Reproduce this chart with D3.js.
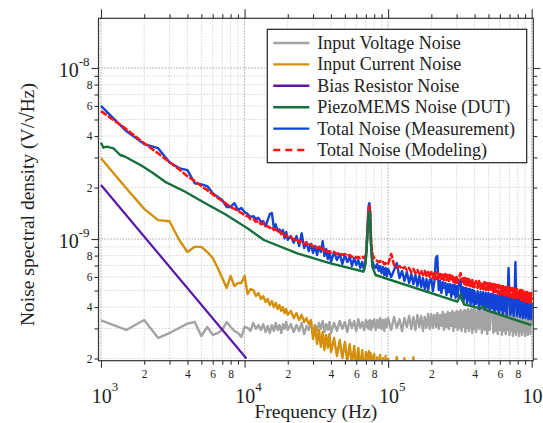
<!DOCTYPE html>
<html>
<head>
<meta charset="utf-8">
<script src="https://cdn.jsdelivr.net/npm/d3@7"></script>
<style>
  html, body { margin: 0; padding: 0; background: #fff; }
  svg, svg text { font-family: "Liberation Serif", "Times New Roman", Times, "DejaVu Serif", serif; }
</style>
</head>
<body>
<svg id="chart" width="543" height="423"></svg>
<script>
const FONT = '"Liberation Serif", "Times New Roman", Times, "DejaVu Serif", serif';

// shared frequency bins of the measured / modeled spectra (kHz)
const freqKHz = [
  1, 1.5, 2, 2.5, 3, 3.5, 4, 4.5, 5, 5.5, 6, 6.5, 7, 7.5, 8, 8.5, 9, 9.5,
  10, 10.5, 11, 11.5, 12, 12.5, 13, 13.5, 14, 14.5, 15, 15.5, 16, 16.5, 17, 17.5, 18, 18.5, 19, 19.5,
  20, 21, 22, 23, 24, 25, 26, 27, 28, 29, 30, 31, 32, 33, 34, 35, 36, 37, 38, 39,
  40, 42, 44, 46, 48, 50, 52, 54, 56, 58, 60, 62, 64, 66, 68,
  70, 71, 72, 73, 73.5, 74, 74.5, 75, 75.5, 76, 77, 78, 80,
  82, 84, 86, 88, 90, 92, 94, 96, 98,
  100, 105, 110, 115, 120, 125, 130, 135, 140, 145, 150, 155, 160, 165, 170, 175, 180, 185, 190, 195,
  200, 205, 210, 215, 220, 225, 230, 235, 240, 245, 250, 255, 260, 265, 270, 275, 280, 285, 290, 295,
  300, 305, 310, 315, 320, 325, 330, 335, 340, 345, 350, 355, 360, 365, 370, 375, 380, 385, 390, 395,
  400, 410, 420, 430, 440, 450, 460, 470, 480, 490, 500, 510, 520, 530, 540, 550, 560, 570, 580, 590,
  600, 610, 620, 630, 640, 650, 660, 670, 680, 690, 700, 710, 720, 730, 740, 750, 760, 770, 780, 790,
  800, 810, 820, 830, 840, 850, 860, 870, 880, 890, 900, 910, 920, 930, 940, 950, 960, 970, 980, 990, 1000
];

// noise densities in nV/sqrt(Hz), one value per bin
const voltageNoise = [
  0.334, 0.294, 0.336, 0.264, 0.282, 0.302, 0.32, 0.327, 0.271, 0.306,
  0.275, 0.282, 0.294, 0.327, 0.306, 0.29, 0.282, 0.267, 0.306, 0.302,
  0.29, 0.323, 0.298, 0.314, 0.294, 0.318, 0.286, 0.31, 0.282, 0.314,
  0.29, 0.323, 0.294, 0.314, 0.282, 0.318, 0.298, 0.327, 0.294, 0.318,
  0.286, 0.314, 0.29, 0.323, 0.278, 0.31, 0.294, 0.327, 0.282, 0.314,
  0.29, 0.323, 0.298, 0.332, 0.286, 0.318, 0.294, 0.327, 0.282, 0.323,
  0.29, 0.332, 0.298, 0.327, 0.286, 0.336, 0.302, 0.332, 0.29, 0.34,
  0.302, 0.327, 0.294, 0.336, 0.306, 0.327, 0.298, 0.332, 0.31, 0.336,
  0.302, 0.327, 0.294, 0.332, 0.306, 0.34, 0.294, 0.336, 0.302, 0.345,
  0.298, 0.336, 0.29, 0.34, 0.306, 0.345, 0.294, 0.35, 0.302, 0.34,
  0.29, 0.345, 0.306, 0.355, 0.298, 0.35, 0.294, 0.36, 0.306, 0.355,
  0.29, 0.35, 0.302, 0.364, 0.298,
  0.364, 0.302, 0.36, 0.306, 0.369, 0.298, 0.36, 0.31, 0.374, 0.294,
  0.364, 0.306, 0.374, 0.298, 0.369, 0.31, 0.38, 0.29, 0.369, 0.306,
  0.38, 0.294, 0.374, 0.302, 0.385, 0.29, 0.374, 0.306, 0.385, 0.286,
  0.38, 0.302, 0.39, 0.29, 0.38, 0.302, 0.39, 0.282, 0.385, 0.298,
  0.395, 0.286, 0.39, 0.298, 0.40, 0.282, 0.39, 0.294, 0.406, 0.278,
  0.395, 0.294, 0.406, 0.464, 0.282, 0.40, 0.29, 0.411, 0.278, 0.40,
  0.294, 0.411, 0.275, 0.406, 0.29, 0.417, 0.278, 0.406, 0.294, 0.417,
  0.275, 0.411, 0.29, 0.423, 0.271, 0.411, 0.286, 0.423, 0.275, 0.417,
  0.29, 0.428, 0.271, 0.417, 0.286, 0.428, 0.275, 0.423, 0.29, 0.434,
  0.271, 0.423, 0.286, 0.434, 0.275, 0.428, 0.29, 0.44, 0.278, 0.428, 0.314
];

const currentNoise = [
  2.97, 1.98, 1.50, 1.29, 1.27, 0.99, 0.84, 0.90, 0.90, 0.84,
  0.774, 0.677, 0.591, 0.517, 0.608, 0.531, 0.553, 0.553, 0.608, 0.477,
  0.51, 0.503, 0.464, 0.483, 0.446, 0.464, 0.428, 0.446, 0.411, 0.434,
  0.40, 0.423, 0.39, 0.411, 0.38, 0.40, 0.369, 0.39, 0.36, 0.38,
  0.345, 0.369, 0.336, 0.36, 0.327, 0.345, 0.318, 0.336, 0.26, 0.31,
  0.243, 0.294, 0.234, 0.286, 0.224, 0.275, 0.231, 0.278, 0.218, 0.264,
  0.207, 0.257, 0.201, 0.25, 0.191, 0.243, 0.184, 0.237, 0.176, 0.231,
  0.169, 0.224, 0.162, 0.218, 0.157, 0.213, 0.150, 0.221, 0.153, 0.210,
  0.145, 0.215, 0.141, 0.207, 0.138, 0.213, 0.135, 0.204, 0.131, 0.21,
  0.126, 0.201, 0.123, 0.207, 0.120, 0.199, 0.116, 0.17, 0.204, 0.12,
  0.16, 0.201, 0.114, 0.15, 0.10, 0.204, 0.14, 0.105, 0.13, 0.10,
  0.12, 0.095, 0.11, 0.09, 0.105, 0.088
];

const measuredNoise = [
  6.00, 4.28, 3.59, 3.40, 2.81, 2.60, 2.53, 2.12, 2.09, 2.04,
  1.855, 1.76, 1.69, 1.54, 1.54, 1.62, 1.48, 1.52, 1.44, 1.40,
  1.345, 1.36, 1.31, 1.33, 1.26, 1.27, 1.19, 1.29, 1.40, 1.42,
  1.16, 1.22, 1.11, 1.14, 1.08, 1.13, 1.01, 1.10, 0.99, 1.04,
  0.95, 1.04, 0.91, 1.08, 0.886, 0.96, 0.85, 0.935, 0.83, 0.91,
  0.806, 0.90, 0.84, 0.97, 0.795, 0.874, 0.764, 0.85, 0.734, 0.84,
  0.754, 0.817, 0.714, 0.806, 0.734, 0.785, 0.695, 0.774, 0.705, 0.754,
  0.677, 0.734, 0.659, 0.774, 0.95, 1.21, 1.52, 1.60, 1.62, 1.56,
  1.40, 1.13, 0.92, 0.795, 0.734, 0.695, 0.677, 0.714, 0.65, 0.695,
  0.632, 0.686, 0.616, 0.677, 0.608, 0.668, 0.60, 0.659, 0.724, 0.591,
  0.65, 0.568, 0.641, 0.553, 0.624, 0.545, 0.616, 0.531, 0.608, 0.524,
  0.591, 0.51, 0.583, 0.503, 0.576,
  0.583, 0.496, 0.56, 0.774, 0.795, 0.503, 0.568, 0.483, 0.56, 0.517,
  0.553, 0.47, 0.545, 0.49, 0.545, 0.458, 0.538, 0.477, 0.538, 0.452,
  0.531, 0.464, 0.531, 0.56, 0.576, 0.44, 0.524, 0.428, 0.517, 0.452,
  0.517, 0.417, 0.51, 0.44, 0.51, 0.411, 0.503, 0.428, 0.503, 0.40,
  0.496, 0.417, 0.496, 0.39, 0.49, 0.411, 0.49, 0.385, 0.483, 0.40,
  0.483, 0.38, 0.477, 0.395, 0.477, 0.374, 0.47, 0.39, 0.47, 0.369,
  0.464, 0.385, 0.464, 0.364, 0.464, 0.38, 0.458, 0.36, 0.458, 0.677,
  0.458, 0.36, 0.452, 0.374, 0.452, 0.355, 0.452, 0.734, 0.446, 0.355,
  0.446, 0.369, 0.446, 0.35, 0.44, 0.364, 0.44, 0.345, 0.44, 0.36,
  0.434, 0.345, 0.434, 0.355, 0.434, 0.34, 0.428, 0.355, 0.428, 0.34, 0.423
];

const modeledNoise = [
  5.60, 4.39, 3.63, 3.17, 2.81, 2.56, 2.33, 2.18, 2.04, 1.93,
  1.83, 1.74, 1.67, 1.60, 1.54, 1.50, 1.46, 1.42, 1.38, 1.36,
  1.31, 1.31, 1.26, 1.27, 1.22, 1.24, 1.19, 1.19, 1.16, 1.18,
  1.13, 1.14, 1.10, 1.11, 1.07, 1.08, 1.04, 1.06, 1.03, 1.03,
  0.99, 1.00, 0.96, 0.97, 0.935, 0.95, 0.91, 0.935, 0.90, 0.91,
  0.886, 0.90, 0.862, 0.886, 0.85, 0.862, 0.84, 0.85, 0.83, 0.84,
  0.817, 0.83, 0.806, 0.817, 0.795, 0.806, 0.785, 0.795, 0.774, 0.785,
  0.774, 0.785, 0.774, 0.806, 0.92, 1.16, 1.44, 1.54, 1.56, 1.52,
  1.38, 1.16, 0.99, 0.862, 0.806, 0.774, 0.754, 0.744, 0.734, 0.744,
  0.724, 0.734, 0.714, 0.724, 0.705, 0.714, 0.817, 0.705, 0.677, 0.695,
  0.668, 0.686, 0.659, 0.677, 0.641, 0.668, 0.632, 0.659, 0.624, 0.65,
  0.616, 0.65, 0.608, 0.641, 0.60,
  0.641, 0.591, 0.632, 0.583, 0.641, 0.591, 0.624, 0.583, 0.632, 0.576,
  0.624, 0.576, 0.616, 0.568, 0.616, 0.568, 0.608, 0.56, 0.608, 0.553,
  0.60, 0.553, 0.60, 0.608, 0.632, 0.583, 0.56, 0.591, 0.545, 0.591,
  0.538, 0.583, 0.538, 0.583, 0.531, 0.576, 0.531, 0.576, 0.524, 0.568,
  0.524, 0.568, 0.517, 0.568, 0.51, 0.56, 0.51, 0.56, 0.503, 0.553,
  0.503, 0.553, 0.496, 0.545, 0.49, 0.545, 0.49, 0.538, 0.483, 0.538,
  0.477, 0.531, 0.477, 0.531, 0.47, 0.524, 0.47, 0.524, 0.464, 0.524,
  0.464, 0.517, 0.458, 0.517, 0.458, 0.51, 0.452, 0.51, 0.452, 0.51,
  0.446, 0.503, 0.446, 0.503, 0.44, 0.503, 0.44, 0.496, 0.434, 0.496,
  0.434, 0.49, 0.428, 0.49, 0.428, 0.49, 0.428, 0.483, 0.423, 0.483, 0.44
];

// smooth curves with their own frequency points (kHz, nV/sqrt(Hz))
const piezoFreqKHz = [1.0, 1.041, 1.097, 1.222, 1.361, 1.475, 1.924, 2.26, 2.80, 3.86, 5.32, 7.34,
  10.66, 13.63, 23.3, 39.7, 61.0, 67.2, 69.7, 71.4, 73.5, 74.9, 76.1, 77.6, 81.8, 104.1,
  303.5, 320, 337.5, 441, 465, 491, 995];
const piezoNoise = [3.66, 3.42, 3.47, 3.39, 3.10, 3.03, 2.68, 2.455, 2.16, 1.89, 1.62, 1.395,
  1.144, 0.987, 0.825, 0.721, 0.659, 0.644, 0.721, 0.987, 1.44, 1.38, 0.922, 0.689, 0.616, 0.576,
  0.430, 0.475, 0.415, 0.393, 0.404, 0.381, 0.314];

const biasFreqKHz = [1, 10.3];
const biasNoise = [2.07, 0.20];

const legendLabels = ['Input Voltage Noise', 'Input Current Noise', 'Bias Resistor Noise',
  'PiezoMEMS Noise (DUT)', 'Total Noise (Measurement)', 'Total Noise (Modeling)'];
const seriesColors = ['#a3a3a3', '#d4900c', '#5a17a6', '#16703c', '#1144d6', '#ff1212'];
const minorLabelDigits = [2, 4, 6, 8];

const box = {left: 98.5, right: 533.3, top: 18.3, bottom: 360.7};
const svg = d3.select('#chart');

const x = d3.scaleLog().domain([961, 1.026e6]).range([box.left, box.right]);
const y = d3.scaleLog().domain([1.943e-10, 1.953e-8]).range([box.bottom, box.top]);

function mantissa(v) {
  let e = Math.floor(Math.log10(v) + 1e-9);
  return Math.round(v / Math.pow(10, e));
}
function exponent(v) {
  return Math.round(Math.log10(v));
}
function minorLabel(v) {
  let m = mantissa(v);
  return minorLabelDigits.includes(m) ? String(m) : '';
}

let xTicks = x.ticks();
let yTicks = y.ticks();
let xMajor = xTicks.filter(d => mantissa(d) === 1);
let xMinor = xTicks.filter(d => mantissa(d) !== 1);
let yMajor = yTicks.filter(d => mantissa(d) === 1);
let yMinor = yTicks.filter(d => mantissa(d) !== 1);

drawGrid();
drawSeries();
drawAxes();
drawLegend();
drawTitles();

function drawGrid() {
  let g = svg.append('g');
  g.selectAll('.gx').data(xTicks).join('line')
    .attr('x1', d => x(d)).attr('x2', d => x(d))
    .attr('y1', box.top).attr('y2', box.bottom)
    .attr('stroke', d => mantissa(d) === 1 ? '#a8a8a8' : '#d6d6d6')
    .attr('stroke-width', 1)
    .attr('stroke-dasharray', '1.5,1.5');
  g.selectAll('.gy').data(yTicks).join('line')
    .attr('x1', box.left).attr('x2', box.right)
    .attr('y1', d => y(d)).attr('y2', d => y(d))
    .attr('stroke', d => mantissa(d) === 1 ? '#a8a8a8' : '#d6d6d6')
    .attr('stroke-width', 1)
    .attr('stroke-dasharray', '1.5,1.5');
}

function pairs(freqs, values) {
  return values.map((v, i) => [freqs[i], v]);
}

function drawSeries() {
  svg.append('clipPath').attr('id', 'plot-clip')
    .append('rect')
    .attr('x', box.left).attr('y', box.top)
    .attr('width', box.right - box.left).attr('height', box.bottom - box.top);

  let line = d3.line()
    .x(d => x(d[0] * 1e3))
    .y(d => y(d[1] * 1e-9));

  let series = [
    {data: pairs(freqKHz, voltageNoise), color: seriesColors[0], width: 2.4},
    {data: pairs(freqKHz, currentNoise), color: seriesColors[1], width: 2.4},
    {data: pairs(biasFreqKHz, biasNoise), color: seriesColors[2], width: 2.2},
    {data: pairs(freqKHz, measuredNoise), color: seriesColors[4], width: 2.4},
    {data: pairs(freqKHz, modeledNoise), color: seriesColors[5], width: 2.6, dash: '7,1.5'},
    {data: pairs(piezoFreqKHz, piezoNoise), color: seriesColors[3], width: 2.4}
  ];

  let g = svg.append('g').attr('clip-path', 'url(#plot-clip)');
  g.selectAll('path').data(series).join('path')
    .attr('d', d => line(d.data))
    .attr('fill', 'none')
    .attr('stroke', d => d.color)
    .attr('stroke-width', d => d.width)
    .attr('stroke-linejoin', 'round')
    .attr('stroke-dasharray', d => d.dash || null);
}

function styleAxis(g) {
  g.attr('font-family', FONT);
  g.select('.domain').remove();
  g.selectAll('line').attr('stroke', '#333').attr('stroke-width', 1.1);
  g.selectAll('text')
    .attr('font-family', FONT)
    .attr('font-size', 11.5)
    .attr('fill', '#222');
}

function drawAxes() {
  let bottom = svg.append('g').attr('transform', `translate(0,${box.bottom})`);
  bottom.append('g').call(d3.axisBottom(x).tickValues(xMinor).tickSize(4).tickSizeOuter(0)
    .tickPadding(5).tickFormat(minorLabel)).call(styleAxis);
  bottom.append('g').call(d3.axisBottom(x).tickValues(xMajor).tickSize(7).tickSizeOuter(0)
    .tickFormat('')).call(styleAxis);

  let top = svg.append('g').attr('transform', `translate(0,${box.top})`);
  top.append('g').call(d3.axisTop(x).tickValues(xMinor).tickSize(4).tickSizeOuter(0).tickFormat('')).call(styleAxis);
  top.append('g').call(d3.axisTop(x).tickValues(xMajor).tickSize(9).tickSizeOuter(0).tickFormat('')).call(styleAxis);

  let left = svg.append('g').attr('transform', `translate(${box.left},0)`);
  left.append('g').call(d3.axisLeft(y).tickValues(yMinor).tickSize(4).tickSizeOuter(0)
    .tickPadding(2).tickFormat(minorLabel)).call(styleAxis);
  left.append('g').call(d3.axisLeft(y).tickValues(yMajor).tickSize(7).tickSizeOuter(0)
    .tickFormat('')).call(styleAxis);

  let right = svg.append('g').attr('transform', `translate(${box.right},0)`);
  right.append('g').call(d3.axisRight(y).tickValues(yMinor).tickSize(4).tickSizeOuter(0).tickFormat('')).call(styleAxis);
  right.append('g').call(d3.axisRight(y).tickValues(yMajor).tickSize(7).tickSizeOuter(0).tickFormat('')).call(styleAxis);

  svg.append('rect')
    .attr('x', box.left).attr('y', box.top)
    .attr('width', box.right - box.left).attr('height', box.bottom - box.top)
    .attr('fill', 'none').attr('stroke', '#333').attr('stroke-width', 1.2);

  // power-of-ten labels with superscripts
  let xl = svg.append('g').selectAll('text').data(xMajor).join('text')
    .attr('x', d => x(d) + 4).attr('y', box.bottom + 42)
    .attr('text-anchor', 'middle').attr('font-family', FONT)
    .attr('font-size', 20).attr('fill', '#222');
  xl.append('tspan').text('10');
  xl.append('tspan').attr('dy', -12).attr('font-size', 13).text(d => exponent(d));

  let yl = svg.append('g').selectAll('text').data(yMajor).join('text')
    .attr('x', box.left - 9).attr('y', d => y(d) + 9)
    .attr('text-anchor', 'end').attr('font-family', FONT)
    .attr('font-size', 20).attr('fill', '#222');
  yl.append('tspan').text('10');
  yl.append('tspan').attr('dy', -11).attr('font-size', 13).text(d => exponent(d));
}

function drawLegend() {
  let lg = svg.append('g').attr('transform', 'translate(267.3,29.3)');
  lg.append('rect').attr('width', 259.4).attr('height', 133.4)
    .attr('fill', '#fff').attr('stroke', '#222').attr('stroke-width', 1.2);
  let rows = lg.selectAll('.row').data(legendLabels).join('g')
    .attr('transform', (d, i) => `translate(0,${13.7 + i * 21.4})`);
  rows.append('line')
    .attr('x1', 6).attr('x2', 42).attr('y1', 0).attr('y2', 0)
    .attr('stroke', (d, i) => seriesColors[i])
    .attr('stroke-width', 2.4)
    .attr('stroke-dasharray', (d, i) => i === 5 ? '7,5' : null);
  rows.append('text')
    .attr('x', 50).attr('y', 6)
    .attr('font-family', FONT)
    .attr('font-size', 18).attr('fill', '#222')
    .text(d => d);
}

function drawTitles() {
  svg.append('text')
    .attr('x', (box.left + box.right) / 2).attr('y', 418)
    .attr('text-anchor', 'middle').attr('font-family', FONT)
    .attr('font-size', 19.5).attr('fill', '#222')
    .text('Frequency (Hz)');
  svg.append('text')
    .attr('transform', 'translate(34,204.5) rotate(-90)')
    .attr('text-anchor', 'middle').attr('font-family', FONT)
    .attr('font-size', 19.5).attr('fill', '#222')
    .text('Noise spectral density (V/\u221AHz)');
}
</script>
</body>
</html>
